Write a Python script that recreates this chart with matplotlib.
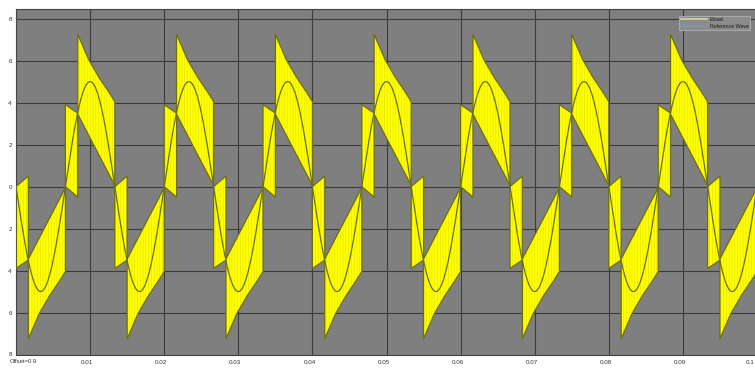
import numpy as np
import matplotlib
matplotlib.use('Agg')
import matplotlib.pyplot as plt
import matplotlib.transforms as mtransforms
from matplotlib.lines import Line2D

plt.rcParams['font.family'] = ['Liberation Sans', 'DejaVu Sans']
plt.rcParams['hatch.linewidth'] = 0.35

# Eload envelope over one positive half cycle (tau = fraction of the half period)
# segment a: low level strip, segment b: high level spike
tau_a = [0.0, 0.25]
upper_a = [3.9, 3.5]
lower_a = [0.0, -0.5]
tau_b = [0.25, 0.47, 0.68, 0.88, 1.0]
upper_b = [7.25, 6.05, 5.2, 4.5, 4.05]
lower_b = [3.45, 2.45, 1.5, 0.6, 0.05]

# reference wave, read from the zero crossings and peaks
f_ref = 75.0
amp_ref = 5.0
n_half = 15          # half cycles shown in 0..0.1 s, first one negative

xticks = [0.01, 0.02, 0.03, 0.04, 0.05, 0.06, 0.07, 0.08, 0.09, 0.1]
xtick_labels = ['0.01', '0.02', '0.03', '0.04', '0.05', '0.06', '0.07', '0.08', '0.09', '0.1']
yticks = [-8, -6, -4, -2, 0, 2, 4, 6, 8]
ytick_labels = ['8', '6', '4', '2', '0', '2', '4', '6', '8']

# build the envelope for all half cycles
half = 1.0 / (2 * f_ref)
tau_half = tau_a + tau_b
up_half = upper_a + upper_b
lo_half = lower_a + lower_b
t_env, up, lo = [], [], []
for k in range(n_half):
    for tt, u, l in zip(tau_half, up_half, lo_half):
        t_env.append((k + tt) * half)
        if k % 2 == 1:
            up.append(u)
            lo.append(l)
        else:
            up.append(-l)
            lo.append(-u)
t_env = np.array(t_env)
up = np.array(up)
lo = np.array(lo)

t = np.linspace(0, 0.1, 3000)
ref = -amp_ref * np.sin(2 * np.pi * f_ref * t)

fig = plt.figure(figsize=(7.55, 3.68), dpi=100)
ax = fig.add_axes([16 / 755, 13.5 / 368, 741 / 755, 345.5 / 368])
ax.set_facecolor('#7f7f7f')

ax.fill_between(t_env, lo, up, facecolor='#ffff00', edgecolor='#dcdc00',
                hatch='||||||', linewidth=0, zorder=2)
ax.fill_between(t_env, lo, up, facecolor='none', edgecolor='#6f6f10',
                linewidth=0.9, zorder=3)
ax.plot(t, ref, color='#66702a', linewidth=0.9, zorder=4)

ax.set_xlim(0, 0.1)
ax.set_ylim(-8, 8.46)
ax.set_xticks(xticks)
ax.set_xticklabels(xtick_labels)
ax.set_yticks(yticks)
ax.set_yticklabels(ytick_labels)
ax.tick_params(axis='both', length=0, labelsize=4.5, colors='#333333')
ax.tick_params(axis='x', pad=4)
ax.tick_params(axis='y', pad=3)
ax.grid(True, color='#3c3c3c', linewidth=0.8, zorder=1)
ax.set_axisbelow(True)
for s in ax.spines.values():
    s.set_color('#444444')
    s.set_linewidth(0.8)

# x labels sit a little left of their grid lines, last one kept inside the figure
shift = mtransforms.ScaledTranslation(-3 / 100, 0, fig.dpi_scale_trans)
for lab in ax.get_xticklabels():
    lab.set_transform(lab.get_transform() + shift)
ax.get_xticklabels()[-1].set_ha('right')

ax.text(10 / 755, 6.5 / 368, 'Offset=0.9', transform=fig.transFigure,
        fontsize=4.2, color='#333333', ha='left', va='center')

handles = [Line2D([0], [0], color='#d6d6a8', linewidth=1.2),
           Line2D([0], [0], color='#8296aa', linewidth=1.2)]
leg = ax.legend(handles, ['Eload', 'Reference Wave'], loc='upper right',
                bbox_to_anchor=(0.9906, 0.9806), borderaxespad=0, fontsize=3.8,
                handlelength=5.0, labelspacing=0.25, borderpad=0.3,
                handletextpad=0.4, fancybox=False, framealpha=1)
leg.get_frame().set_facecolor('#8c8c8c')
leg.get_frame().set_edgecolor('#b0b0b0')
leg.get_frame().set_linewidth(0.6)
for txt in leg.get_texts():
    txt.set_color('#1a1a1a')

fig.savefig('out.png', dpi=100, facecolor='white')
